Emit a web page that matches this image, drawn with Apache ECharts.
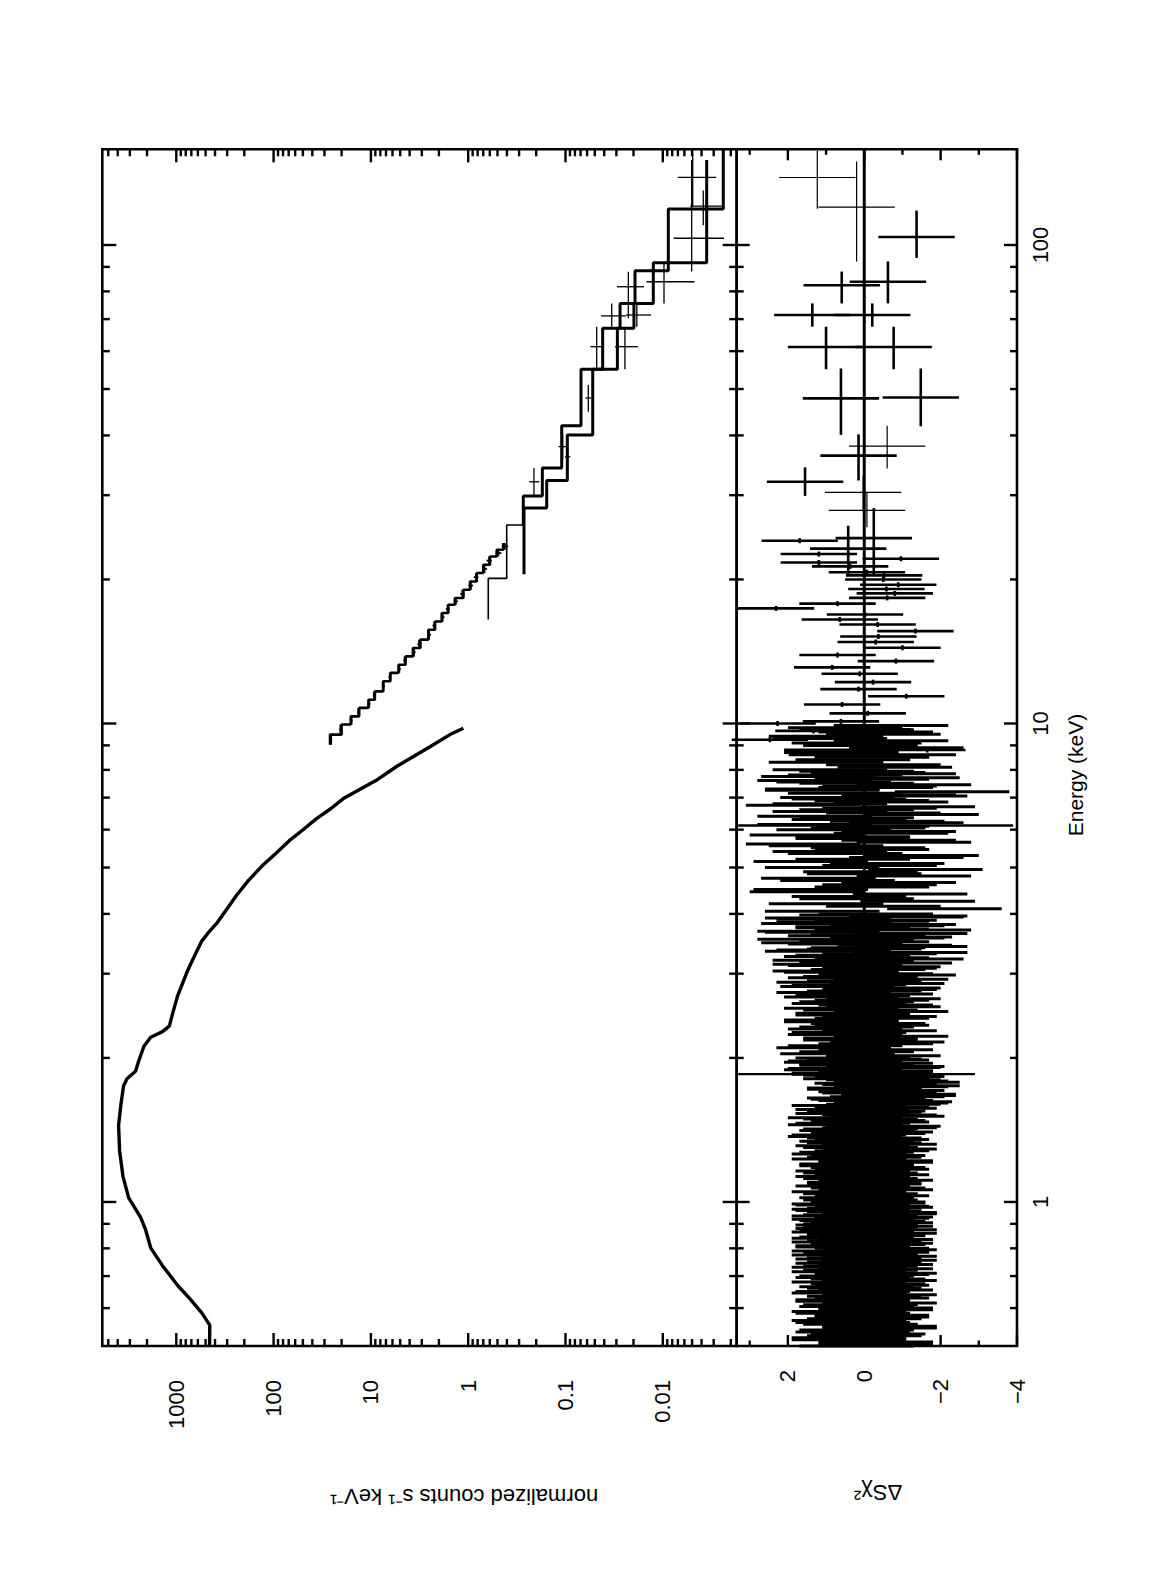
<!DOCTYPE html>
<html>
<head>
<meta charset="utf-8">
<script src="https://cdn.jsdelivr.net/npm/echarts@6.0.0/dist/echarts.min.js"></script>
<style>
  html, body { margin:0; padding:0; background:#fff; width:1171px; height:1575px; overflow:hidden; }
  #rot { position:absolute; left:0; top:0; width:1575px; height:1171px; transform-origin:0 0; transform: translateY(1575px) rotate(-90deg); }
  #chart { width:1575px; height:1171px; background:#fff; }
</style>
</head>
<body>
<div id="rot"><div id="chart"></div></div>
<script>
// ================= DATA =================
// axis ranges
const energyRange = [0.5, 158.5];
const countRange = [0.00174, 5760];
const residualRange = [-4, 3.34];

// tick values / labels
const energyMajorTicks = [1, 10, 100];
const energyTickLabels = ['1', '10', '100'];
const energyMinorTicks = [0.6, 0.7, 0.8, 0.9, 2, 3, 4, 5, 6, 7, 8, 9, 20, 30, 40, 50, 60, 70, 80, 90];
const countMajorTicks = [0.01, 0.1, 1, 10, 100, 1000];
const countTickLabels = ['0.01', '0.1', '1', '10', '100', '1000'];
const countMinorTicks = [0.002, 0.003, 0.004, 0.005, 0.006, 0.007, 0.008, 0.009,
  0.02, 0.03, 0.04, 0.05, 0.06, 0.07, 0.08, 0.09,
  0.2, 0.3, 0.4, 0.5, 0.6, 0.7, 0.8, 0.9,
  2, 3, 4, 5, 6, 7, 8, 9,
  20, 30, 40, 50, 60, 70, 80, 90,
  200, 300, 400, 500, 600, 700, 800, 900,
  2000, 3000, 4000, 5000];
const residualMajorTicks = [-4, -2, 0, 2];
const residualTickLabels = ['\u22124', '\u22122', '0', '2'];
const residualMinorTicks = [-3, -1, 1, 3];

// soft X-ray spectrum (keV, normalized counts s^-1 keV^-1)
const softE = [0.50, 0.553, 0.588, 0.629, 0.669, 0.736, 0.802, 0.875, 0.930, 1.02, 1.13, 1.28, 1.446, 1.605, 1.75, 1.81, 1.876, 1.975, 2.116, 2.21, 2.27, 2.33, 2.475, 2.70, 2.87, 3.05, 3.27, 3.5, 3.65, 3.82, 4.09, 4.38, 4.70, 5.04, 5.35, 5.69, 5.99, 6.32, 6.65, 6.99, 7.63, 8.14, 8.94, 9.48, 9.77];
const softC = [455, 453, 552, 731, 967, 1386, 1832, 2068, 2333, 3083, 3529, 3826, 3918, 3700, 3480, 3211, 2626, 2423, 2152, 1832, 1386, 1180, 1092, 967, 858, 762, 649, 552, 471, 385, 303, 239, 181, 131, 95, 69, 50.2, 36.5, 25.5, 18.8, 8.6, 5.4, 2.47, 1.54, 1.12];

// second instrument, 9-24 keV: bin edges, model, data, errors
const d2Edges = [9.03, 9.48, 9.95, 10.35, 10.78, 11.21, 11.67, 12.25, 12.76, 13.27, 13.81, 14.38, 14.97, 15.70, 16.34, 17.02, 17.71, 18.29, 19.03, 19.81, 20.63, 21.47, 22.34, 23.07, 23.83];
const d2Model = [26.3, 20.0, 16.1, 13.2, 10.6, 9.1, 7.5, 6.3, 5.2, 4.4, 3.7, 3.1, 2.57, 2.19, 1.87, 1.60, 1.37, 1.12, 0.958, 0.818, 0.70, 0.597, 0.509, 0.436];
const d2E = [9.25, 9.71, 10.15, 10.56, 10.99, 11.44, 11.96, 12.50, 13.01, 13.54, 14.09, 14.67, 15.33, 16.02, 16.68, 17.36, 18.0, 18.66, 19.42, 20.22, 21.05, 21.9, 22.7, 23.45];
const d2Data = [25.6, 20.6, 15.8, 13.5, 10.4, 9.3, 7.4, 6.4, 5.1, 4.5, 3.6, 3.2, 2.52, 2.24, 1.83, 1.63, 1.34, 1.15, 0.94, 0.83, 0.68, 0.61, 0.49, 0.42];
const d2Err = [0.6, 0.5, 0.4, 0.35, 0.3, 0.25, 0.22, 0.2, 0.17, 0.15, 0.13, 0.12, 0.1, 0.09, 0.08, 0.07, 0.065, 0.06, 0.05, 0.045, 0.04, 0.038, 0.034, 0.032];

// hard X-ray step models
const modelPEdges = [16.5, 20.1, 26.0];
const modelPCounts = [0.622, 0.402];
const modelSEdges = [26.0, 29.9, 34.2, 41.9, 55.0, 67.0, 75.5, 88.3, 118.9, 158.5];
const modelSCounts = [0.2715, 0.173, 0.1094, 0.0693, 0.0415, 0.0275, 0.0193, 0.00878, 0.00239];
const modelTEdges = [20.5, 28.2, 32.2, 40.1, 55.0, 67.0, 75.5, 91.8, 150.5];
const modelTCounts = [0.267, 0.156, 0.0958, 0.0525, 0.0293, 0.0198, 0.01252, 0.00354];

// hard X-ray data points
const hardE   = [32.0, 37.9, 36.1, 47.9, 61.3, 71.1, 61.3, 81.8, 71.4, 83.8, 103.3, 138.5, 120.6];
const hardLo  = [29.9, 35.6, 34.2, 44.8, 55.3, 67.5, 55.0, 70.3, 67.5, 75.5, 88.0, 120.2, 110];
const hardHi  = [34.2, 40.4, 38.0, 51.0, 67.5, 75.5, 67.5, 87.9, 75.5, 91.6, 150.5, 155.4, 130];
const hardC   = [0.211, 0.107, 0.095, 0.0583, 0.0478, 0.0335, 0.0245, 0.0226, 0.0185, 0.00972, 0.00505, 0.00493, 0.00384];
const hardErr = [0.025, 0.011, 0.006, 0.004, 0.0076, 0.0096, 0.0065, 0.007, 0.0053, 0.005, 0.0027, 0.0021, 0.0014];

// residuals: soft band, first set of channels
const softResE = [
  0.50,0.51,0.52,0.53,0.54,0.55,0.56,0.57,0.58,0.59,
  0.60,0.61,0.62,0.63,0.64,0.65,0.66,0.67,0.68,0.69,
  0.70,0.71,0.72,0.73,0.74,0.75,0.76,0.77,0.78,0.79,
  0.80,0.81,0.82,0.83,0.84,0.85,0.86,0.87,0.88,0.89,
  0.90,0.91,0.92,0.93,0.94,0.95,0.96,0.97,0.98,0.99,
  1.00,1.02,1.04,1.06,1.08,1.10,1.12,1.14,1.16,1.18,
  1.20,1.22,1.24,1.26,1.28,1.30,1.32,1.34,1.36,1.38,
  1.40,1.42,1.44,1.46,1.48,1.50,1.52,1.54,1.56,1.58,
  1.60,1.62,1.64,1.66,1.68,1.70,1.72,1.74,1.76,1.78,
  1.80,1.82,1.84,1.86,1.88,1.90,1.92,1.94,1.96,1.98,
  2.00,2.04,2.08,2.12,2.16,2.20,2.24,2.28,2.32,2.36,
  2.40,2.44,2.48,2.52,2.56,2.60,2.64,2.68,2.72,2.76,
  2.80,2.84,2.88,2.92,2.96,3.00,3.04,3.08,3.12,3.16,
  3.20,3.24,3.28,3.32,3.36,3.40,3.44,3.48,3.52,3.56,
  3.60,3.64,3.68,3.72,3.76,3.80,3.84,3.88,3.92,3.96,
  4.0,4.1,4.2,4.3,4.4,4.5,4.6,4.7,4.8,4.9,
  5.0,5.1,5.2,5.3,5.4,5.5,5.6,5.7,5.8,5.9,
  6.0,6.1,6.2,6.3,6.4,6.5,6.6,6.7,6.8,6.9,
  7.0,7.1,7.2,7.3,7.4,7.5,7.6,7.7,7.8,7.9,
  8.0,8.2,8.4,8.6,8.8,9.0,9.2,9.4,9.6,9.8];
const softResR = [
  0.2,-0.3,0.4,-0.1,0.2,-0.4,0.3,0.0,-0.2,0.4,
  -0.3,0.1,0.3,-0.2,-0.4,0.3,0.0,-0.2,0.4,-0.1,
  0.2,-0.4,0.1,0.4,-0.3,0.0,0.3,-0.4,0.1,0.4,
  -0.2,0.3,-0.3,0.0,0.4,-0.1,-0.4,0.2,0.3,-0.3,
  0.1,-0.1,0.4,-0.3,0.1,-0.4,0.3,0.0,-0.2,0.4,
  -0.1,0.2,0.1,-0.3,0.3,0.0,0.1,-0.2,0.3,-0.1,
  0.2,-0.3,0.0,0.4,-0.2,0.1,-0.4,0.2,0.0,0.4,
  -0.3,0.1,-0.5,0.3,-0.1,0.5,-0.4,0.0,0.3,-0.2,
  -0.5,-0.8,-0.1,-0.6,-0.9,-0.3,0.0,-0.7,-0.4,-1.0,
  -0.5,-0.2,0.1,0.4,-0.3,0.5,-0.6,0.2,0.6,-0.2,
  0.3,0.7,-0.3,0.5,-0.6,0.1,0.5,-0.4,0.2,-0.1,
  0.6,-0.4,0.3,0.1,-0.5,0.4,-0.2,0.6,-0.3,0.0,
  -0.5,0.4,0.8,-0.7,0.1,-0.3,0.9,-0.4,0.5,-0.8,
  0.9,-0.2,0.3,-1.2,0.8,-0.1,-0.8,1.2,0.2,-0.6,
  0.5,-1.2,1.3,-0.2,0.3,-0.9,0.8,-0.4,1.1,-1.2,
  -0.3,-2.1,1.0,0.2,-1.2,1.4,-0.4,0.7,-1.3,0.1,
  1.1,-0.6,0.3,-1.5,0.9,-0.1,1.6,-0.9,0.3,-0.7,
  0.8,-0.2,-1.1,0.4,1.3,-0.5,0.2,-1.4,0.9,-0.2,
  0.7,-0.9,-2.3,1.1,-0.4,0.2,1.3,-1.0,0.5,-0.1,
  0.9,-0.5,0.3,-0.9,0.6,0.1,-0.7,1.0,-0.3,0.5];
// residuals: soft band, second (interleaved) set of channels
const softResE2 = [
  0.505,0.515,0.525,0.535,0.545,0.555,0.565,0.575,0.585,0.595,
  0.605,0.615,0.625,0.635,0.645,0.655,0.665,0.675,0.685,0.695,
  0.705,0.715,0.725,0.735,0.745,0.755,0.765,0.775,0.785,0.795,
  0.805,0.815,0.825,0.835,0.845,0.855,0.865,0.875,0.885,0.895,
  0.905,0.915,0.925,0.935,0.945,0.955,0.965,0.975,0.985,0.995,
  1.01,1.03,1.05,1.07,1.09,1.11,1.13,1.15,1.17,1.19,
  1.21,1.23,1.25,1.27,1.29,1.31,1.33,1.35,1.37,1.39,
  1.41,1.43,1.45,1.47,1.49,1.51,1.53,1.55,1.57,1.59,
  1.61,1.63,1.65,1.67,1.69,1.71,1.73,1.75,1.77,1.79,
  1.81,1.83,1.85,1.87,1.89,1.91,1.93,1.95,1.97,1.99,
  2.02,2.06,2.10,2.14,2.18,2.22,2.26,2.30,2.34,2.38,
  2.42,2.46,2.50,2.54,2.58,2.62,2.66,2.70,2.74,2.78,
  2.82,2.86,2.90,2.94,2.98,3.02,3.06,3.10,3.14,3.18,
  3.22,3.26,3.30,3.34,3.38,3.42,3.46,3.50,3.54,3.58,
  3.62,3.66,3.70,3.74,3.78,3.82,3.86,3.90,3.94,3.98,
  4.05,4.15,4.25,4.35,4.45,4.55,4.65,4.75,4.85,4.95,
  5.05,5.15,5.25,5.35,5.45,5.55,5.65,5.75,5.85,5.95,
  6.05,6.15,6.25,6.35,6.45,6.55,6.65,6.75,6.85,6.95,
  7.05,7.15,7.25,7.35,7.45,7.55,7.65,7.75,7.85,7.95,
  8.1,8.3,8.5,8.7,8.9,9.1,9.3,9.5,9.7,9.9];
const softResR2 = [
  -0.3,0.4,0.0,0.3,-0.4,0.1,0.4,-0.2,0.3,-0.3,
  0.2,-0.4,0.3,0.0,0.4,-0.3,0.2,-0.1,-0.4,0.3,
  -0.2,0.4,-0.3,0.1,0.3,-0.4,0.0,0.4,-0.2,-0.4,
  0.3,-0.1,0.4,-0.3,0.2,0.0,0.4,-0.4,0.1,0.3,
  -0.3,0.2,-0.2,0.4,-0.4,0.0,0.4,-0.3,0.3,-0.1,
  0.1,-0.2,0.4,-0.1,0.0,-0.3,0.3,0.1,-0.2,0.2,
  -0.3,0.4,-0.1,0.2,-0.4,0.3,0.0,-0.2,0.5,-0.1,
  0.2,-0.4,0.5,-0.2,0.1,-0.6,0.3,-0.1,-0.4,0.4,
  -0.7,-0.3,0.0,-0.9,-0.4,-0.6,0.0,-1.0,-0.2,-0.7,
  0.1,-0.6,0.4,-0.3,0.6,-0.5,0.2,-0.3,0.5,0.0,
  -0.5,0.2,0.8,-0.3,0.1,-0.7,0.4,0.5,-0.2,0.6,
  -0.2,0.3,-0.7,0.6,-0.3,0.2,-0.5,0.3,0.8,-0.4,
  0.7,-0.6,0.0,0.5,-0.9,0.6,-0.1,-0.5,0.9,0.2,
  -1.1,0.6,-0.4,1.1,0.0,-1.2,0.5,-0.2,1.3,-0.8,
  -0.1,1.1,-1.3,0.3,-0.6,1.2,-0.2,0.8,-1.1,0.2,
  1.1,-0.5,-1.4,0.4,1.5,-0.2,-0.9,1.2,0.0,-1.6,
  -0.4,1.4,-1.1,0.5,-0.2,1.0,-1.3,0.3,1.5,-0.9,
  -0.1,1.3,-0.6,0.2,-1.5,0.9,-0.4,1.6,-0.7,0.4,
  -1.2,0.5,1.1,-0.3,-1.3,0.8,-0.2,1.2,-0.9,0.2,
  -0.8,1.0,-0.2,0.6,-1.1,0.4,0.9,-0.5,0.2,-0.7];
const softResErr = 1.5;
// soft-band residuals with unusually large error bars
const wideResE = [1.85, 6.12];
const wideResR = [0.2, -0.3];
const wideResErr = [3.1, 3.6];

// residuals: 8.6-24 keV (second instrument), error bars of 1
const residualErr = 1;
const denseResE = [24.1, 22.6, 22.1, 21.7, 21.3, 20.7, 20.4, 20.0, 19.5, 19.1, 18.7, 18.3, 17.8, 17.4, 16.9, 16.5, 16.1, 15.6, 15.2, 14.8, 14.4, 13.9, 13.5, 13.1, 12.7, 12.2, 11.8, 11.4, 10.96, 10.5, 10.1, 10.0, 9.72, 9.65, 9.29, 9.25, 9.1, 8.8, 8.6];
const denseResR = [1.69, 1.19, -0.96, 1.19, 0.37, -0.07, -0.52, -0.50, -0.89, -0.58, -0.80, -0.60, 0.70, 2.31, -0.02, 0.64, -0.35, -1.34, -0.37, -0.30, -1.0, 0.70, -0.83, 0.84, 0.12, -0.23, 0.15, -1.1, 0.58, -0.09, 0.61, 2.27, -0.22, 1.33, 0.46, 2.47, -0.5, -1.65, 0.98];

// residuals: hard band, thin and thick crosses
const thinResE  = [138.4, 120, 38, 30.4, 27.9];
const thinResLo = [119, 92.4, 34.1, 28.0, 25.7];
const thinResHi = [157.4, 149.5, 41.9, 33.0, 30.4];
const thinResR  = [1.23, 0.2, -0.6, 0.03, -0.07];
const thickResE  = [103.9, 83.8, 82.4, 71.4, 71.4, 61.2, 61.2, 47.8, 48, 36.3, 32, 24.4, 23.2];
const thickResLo = [94, 75.5, 75.5, 67.5, 67.5, 55, 55, 40.1, 41.8, 32.2, 29.9, 20.5, 20.3];
const thickResHi = [118, 92.4, 88, 75.5, 75.5, 67.5, 67.5, 55.2, 55.2, 40.2, 34.3, 28.2, 25.9];
const thickResR  = [-1.37, -0.62, 0.59, 1.36, -0.21, 1.0, -0.77, 0.61, -1.48, 0.15, 1.55, -0.25, 0.42];

// ================= CHART =================
const FONT = '"Liberation Sans", Arial, Helvetica, sans-serif';
const BLACK = '#000';

function stepPoints(edges, counts) {
  const pts = [];
  for (let i = 0; i < counts.length; i++) {
    pts.push([edges[i], counts[i]]);
    pts.push([edges[i + 1], counts[i]]);
  }
  return pts;
}
function powLabel(ticks, labels) {
  return function (v) {
    for (let i = 0; i < ticks.length; i++) {
      if (Math.abs(Math.log10(v) - Math.log10(ticks[i])) < 1e-4) return labels[i];
    }
    return '';
  };
}
function residualLabel(v) {
  for (let i = 0; i < residualMajorTicks.length; i++) {
    if (Math.abs(v - residualMajorTicks[i]) < 1e-6) {
      return (residualMajorTicks[i] < 0 ? '{neg|' : '{pos|') + residualTickLabels[i] + '}';
    }
  }
  return '';
}
function clampC(c) { return Math.min(countRange[1], Math.max(countRange[0], c)); }

// cross renderer: item = [x, y, xlo, xhi, ylo, yhi]
function crossSeries(name, gridIdx, data, lw, tickHalf) {
  return {
    type: 'custom', name: name, xAxisIndex: gridIdx, yAxisIndex: gridIdx, silent: true, z: 3,
    encode: { x: 0, y: 1 }, data: data,
    renderItem: function (params, api) {
      const x = api.value(0), y = api.value(1);
      const st = { stroke: BLACK, lineWidth: lw };
      const p = api.coord([x, api.value(4)]), q = api.coord([x, api.value(5)]);
      const children = [{ type: 'line', shape: { x1: p[0], y1: p[1], x2: q[0], y2: q[1] }, style: st }];
      const xlo = api.value(2), xhi = api.value(3);
      if (xhi > xlo) {
        const a = api.coord([xlo, y]), b = api.coord([xhi, y]);
        children.push({ type: 'line', shape: { x1: a[0], y1: a[1], x2: b[0], y2: b[1] }, style: st });
      } else if (tickHalf > 0) {
        const c = api.coord([x, y]);
        children.push({ type: 'line', shape: { x1: c[0] - tickHalf, y1: c[1], x2: c[0] + tickHalf, y2: c[1] }, style: st });
      }
      return { type: 'group', children: children };
    }
  };
}
// tick renderer: item = [x, y, isMajor]
function tickSeries(gridIdx, data, orient, majorLen, minorLen) {
  return {
    type: 'custom', xAxisIndex: gridIdx, yAxisIndex: gridIdx, silent: true, z: 6,
    encode: { x: 0, y: 1 }, data: data,
    renderItem: function (params, api) {
      const cs = params.coordSys;
      const pt = api.coord([api.value(0), api.value(1)]);
      const len = api.value(2) ? majorLen : minorLen;
      const st = { stroke: BLACK, lineWidth: 2.4 };
      if (orient === 'x') {
        const x = pt[0];
        return { type: 'group', children: [
          { type: 'line', shape: { x1: x, y1: cs.y, x2: x, y2: cs.y + len }, style: st },
          { type: 'line', shape: { x1: x, y1: cs.y + cs.height, x2: x, y2: cs.y + cs.height - len }, style: st }
        ] };
      }
      const y = pt[1];
      return { type: 'group', children: [
        { type: 'line', shape: { x1: cs.x, y1: y, x2: cs.x + len, y2: y }, style: st },
        { type: 'line', shape: { x1: cs.x + cs.width, y1: y, x2: cs.x + cs.width - len, y2: y }, style: st }
      ] };
    }
  };
}

// build tables
const softLine = softE.map((e, i) => [e, softC[i]]);
const d2Step = stepPoints(d2Edges, d2Model);
const d2Cross = d2E.map((e, i) => [e, d2Data[i], d2Edges[i], d2Edges[i + 1], clampC(d2Data[i] - d2Err[i]), clampC(d2Data[i] + d2Err[i])]);
const stepP = stepPoints(modelPEdges, modelPCounts).concat([[modelSEdges[0], modelSCounts[0]]]);
const stepS = stepPoints(modelSEdges, modelSCounts);
const stepT = stepPoints(modelTEdges, modelTCounts);
const hardCross = hardE.map((e, i) => [e, hardC[i], hardLo[i], hardHi[i], clampC(hardC[i] - hardErr[i]), clampC(hardC[i] + hardErr[i])]);
const softRes = softResE.map((e, i) => [e, softResR[i], e, e, softResR[i] - softResErr, softResR[i] + softResErr]);
const softRes2 = softResE2.map((e, i) => [e, softResR2[i], e, e, softResR2[i] - softResErr, softResR2[i] + softResErr]);
const wideRes = wideResE.map((e, i) => [e, wideResR[i], e, e, wideResR[i] - wideResErr[i], wideResR[i] + wideResErr[i]]);
const denseRes = denseResE.map((e, i) => [e, denseResR[i], e, e, denseResR[i] - residualErr, denseResR[i] + residualErr]);
const thinRes = thinResE.map((e, i) => [e, thinResR[i], thinResLo[i], thinResHi[i], thinResR[i] - residualErr, thinResR[i] + residualErr]);
const thickRes = thickResE.map((e, i) => [e, thickResR[i], thickResLo[i], thickResHi[i], thickResR[i] - residualErr, thickResR[i] + residualErr]);

const eTicks0 = energyMajorTicks.map(v => [v, 1, 1]).concat(energyMinorTicks.map(v => [v, 1, 0]));
const eTicks1 = energyMajorTicks.map(v => [v, 0, 1]).concat(energyMinorTicks.map(v => [v, 0, 0]));
const cTicks = countMajorTicks.map(v => [1, v, 1]).concat(countMinorTicks.map(v => [1, v, 0]));
const rTicks = residualMajorTicks.map(v => [1, v, 1]).concat(residualMinorTicks.map(v => [1, v, 0]));

const labelBase = { color: BLACK, fontFamily: FONT, fontSize: 22 };
const hiddenAxisParts = { axisLine: { show: false }, axisTick: { show: false }, splitLine: { show: false } };

const chart = echarts.init(document.getElementById('chart'), null, { renderer: 'svg', width: 1575, height: 1171 });
const option = {
  animation: false,
  backgroundColor: '#fff',
  grid: [
    { left: 229, top: 102.3, width: 1196.7, height: 634.4, show: true, borderColor: BLACK, borderWidth: 2.6, backgroundColor: 'rgba(0,0,0,0)', containLabel: false, outerBoundsMode: 'none' },
    { left: 229, top: 736.7, width: 1196.7, height: 280.3, show: true, borderColor: BLACK, borderWidth: 2.6, backgroundColor: 'rgba(0,0,0,0)', containLabel: false, outerBoundsMode: 'none' }
  ],
  xAxis: [
    Object.assign({ type: 'log', logBase: 10, gridIndex: 0, min: energyRange[0], max: energyRange[1], axisLabel: { show: false } }, hiddenAxisParts),
    Object.assign({ type: 'log', logBase: 10, gridIndex: 1, min: energyRange[0], max: energyRange[1],
      axisLabel: Object.assign({ show: true, margin: 12, showMinLabel: false, showMaxLabel: false, formatter: powLabel(energyMajorTicks, energyTickLabels) }, labelBase) }, hiddenAxisParts)
  ],
  yAxis: [
    Object.assign({ type: 'log', logBase: 10, gridIndex: 0, min: countRange[0], max: countRange[1],
      axisLabel: Object.assign({ show: true, margin: 34, showMinLabel: false, showMaxLabel: false, formatter: powLabel(countMajorTicks, countTickLabels) }, labelBase) }, hiddenAxisParts),
    Object.assign({ type: 'value', gridIndex: 1, min: residualRange[0], max: residualRange[1], interval: 1,
      axisLabel: Object.assign({ show: true, margin: 24, showMinLabel: true, showMaxLabel: false, formatter: residualLabel,
        rich: {
          pos: { color: BLACK, fontFamily: FONT, fontSize: 22 },
          neg: { color: BLACK, fontFamily: FONT, fontSize: 22, padding: [0, 9, 0, 0] }
        } }, labelBase) }, hiddenAxisParts)
  ],
  graphic: [
    { type: 'text', x: 800, y: 1075, z: 10, silent: true,
      style: { text: 'Energy (keV)', fill: BLACK, fontFamily: FONT, fontSize: 21, align: 'center', verticalAlign: 'middle', textAlign: 'center', textVerticalAlign: 'middle' } },
    { type: 'text', x: 79, y: 464, rotation: Math.PI / 2, z: 10, silent: true,
      style: { text: 'normalized counts s\u207B\u00B9 keV\u207B\u00B9', fill: BLACK, fontFamily: FONT, fontSize: 22, align: 'center', verticalAlign: 'middle', textAlign: 'center', textVerticalAlign: 'middle' } },
    { type: 'text', x: 83, y: 878, rotation: Math.PI / 2, z: 10, silent: true,
      style: { text: '\u0394S\u03C7\u00B2', fill: BLACK, fontFamily: FONT, fontSize: 22, align: 'center', verticalAlign: 'middle', textAlign: 'center', textVerticalAlign: 'middle' } }
  ],
  series: [
    { type: 'line', name: 'soft data', xAxisIndex: 0, yAxisIndex: 0, data: softLine, showSymbol: false, silent: true, z: 3,
      lineStyle: { color: BLACK, width: 3.4 } },
    { type: 'line', name: 'model 2', xAxisIndex: 0, yAxisIndex: 0, data: d2Step, showSymbol: false, silent: true, z: 3,
      lineStyle: { color: BLACK, width: 2.6 } },
    crossSeries('data 2', 0, d2Cross, 1.8, 0),
    { type: 'line', name: 'model P', xAxisIndex: 0, yAxisIndex: 0, data: stepP, showSymbol: false, silent: true, z: 3,
      lineStyle: { color: BLACK, width: 1.6 } },
    { type: 'line', name: 'model S', xAxisIndex: 0, yAxisIndex: 0, data: stepS, showSymbol: false, silent: true, z: 3,
      lineStyle: { color: BLACK, width: 3 } },
    { type: 'line', name: 'model T', xAxisIndex: 0, yAxisIndex: 0, data: stepT, showSymbol: false, silent: true, z: 3,
      lineStyle: { color: BLACK, width: 3 } },
    crossSeries('hard data', 0, hardCross, 1.3, 0),
    crossSeries('soft residuals', 1, softRes, 3, 0),
    crossSeries('soft residuals 2', 1, softRes2, 3, 0),
    crossSeries('wide residuals', 1, wideRes, 2.4, 0),
    crossSeries('dense residuals', 1, denseRes, 2.6, 2.5),
    crossSeries('thin residuals', 1, thinRes, 1.2, 0),
    crossSeries('thick residuals', 1, thickRes, 2.6, 0),
    { type: 'line', name: 'zero', xAxisIndex: 1, yAxisIndex: 1, data: [[energyRange[0], 0], [energyRange[1], 0]], showSymbol: false, silent: true, z: 4,
      lineStyle: { color: BLACK, width: 3 } },
    tickSeries(0, eTicks0, 'x', 14, 7.5),
    tickSeries(1, eTicks1, 'x', 13, 7),
    tickSeries(0, cTicks, 'y', 13, 7),
    tickSeries(1, rTicks, 'y', 11, 5.5)
  ]
};
chart.setOption(option);
</script>
</body>
</html>
